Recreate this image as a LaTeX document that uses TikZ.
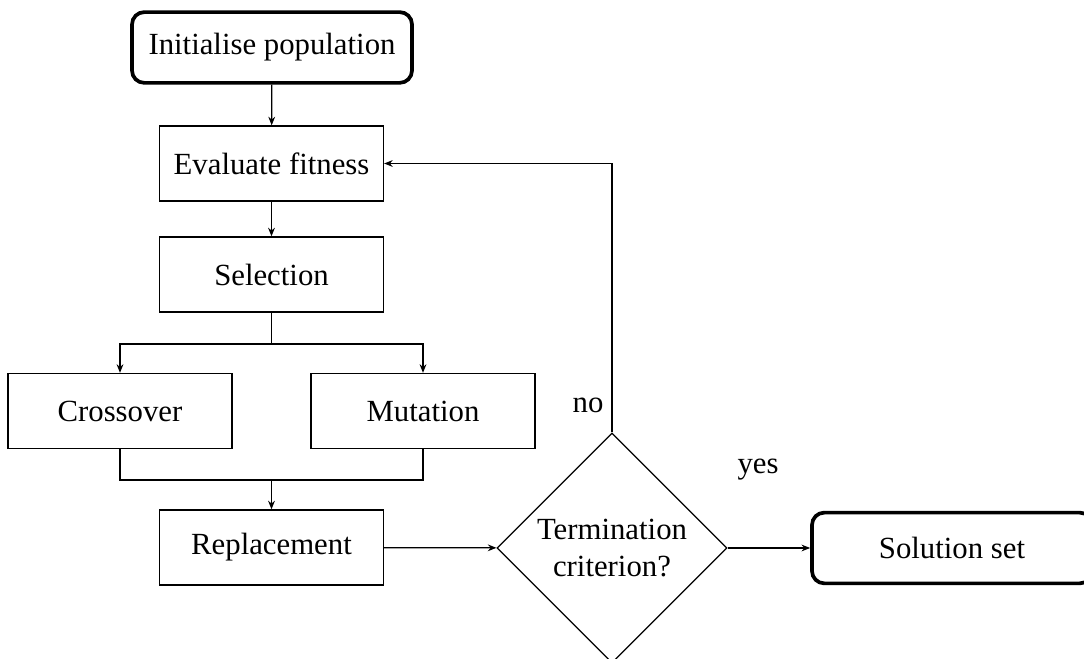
\documentclass[tikz,border=0pt]{standalone}
\usepackage{fontspec}
\setmainfont{Liberation Serif}
\usetikzlibrary{shapes.geometric,arrows.meta}
\tikzset{
  procbox/.style={draw, line width=0.4pt, minimum width=72.8pt, minimum height=24.4pt, inner sep=2pt},
  termbox/.style={draw, line width=1.2pt, rounded corners=4pt, minimum width=91pt, minimum height=23pt, inner sep=2pt},
  decision/.style={draw, diamond, line width=0.4pt, aspect=1, minimum width=74.8pt, minimum height=74.8pt, inner sep=0pt, align=center},
  flow/.style={-{Stealth[length=2.8pt,width=2.2pt]}, line width=0.4pt},
  link/.style={line width=0.4pt}
}
\begin{document}
\begin{tikzpicture}[x=0.325pt,y=-0.325pt]
\useasboundingbox (0,0) rectangle (1084,659);

% Nodes
\node [termbox] (init) at (272,47.5) {Initialise population};
\node [procbox] (eval) at (271.5,163.5) {Evaluate fitness};
\node [procbox] (sel) at (271.5,274.5) {Selection};
\node [procbox] (cross) at (120,411) {Crossover};
\node [procbox] (mut) at (423,411) {Mutation};
\node [procbox] (repl) at (271.5,547.5) {Replacement};
\node [decision] (term) at (612,548) {Termination\\criterion?};
\node [termbox] (sol) at (952,548) {Solution set};

% Junctions
\coordinate (split) at (271.5,344);
\coordinate (merge) at (271.5,480);

% Connectors
\draw [flow] (init) -- (eval);
\draw [flow] (eval) -- (sel);
\draw [link] (sel) -- (split);
\draw [flow] (split) -| (cross);
\draw [flow] (split) -| (mut);
\draw [link] (cross) |- (merge);
\draw [link] (mut) |- (merge);
\draw [flow] (merge) -- (repl);
\draw [flow] (repl) -- (term);
\draw [flow] (term) -- (sol);
\draw [flow] (term.north) |- (eval.east);

% Labels
\node (nolabel) at (588,405) {no};
\node (yeslabel) at (758,470) {yes};

\end{tikzpicture}
\end{document}
